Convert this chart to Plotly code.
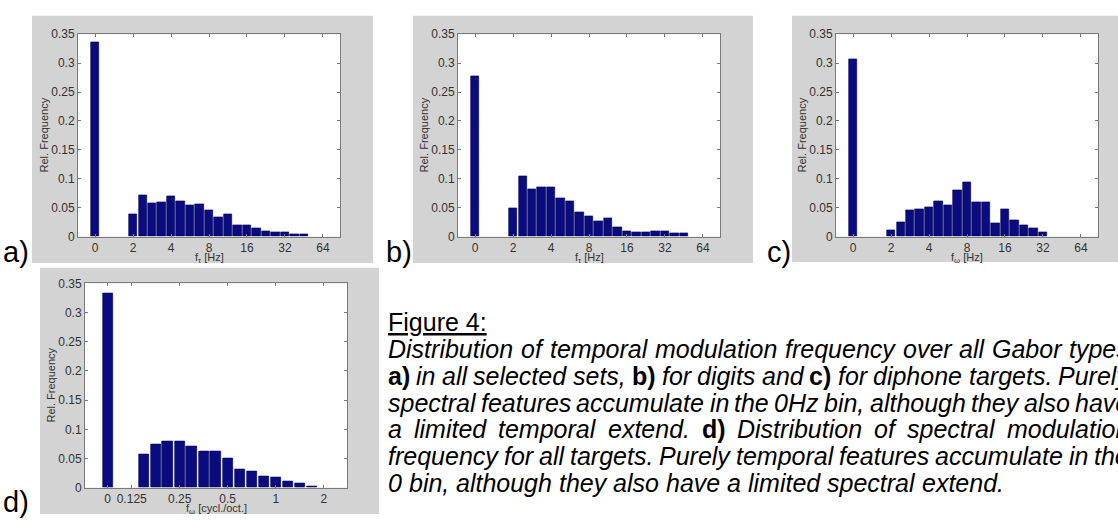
import math
import plotly.graph_objects as go

W, H = 1118, 521

# ---------------- data ----------------
freq_t = [2, 2.38, 2.83, 3.36, 4, 4.76, 5.66, 6.73, 8, 9.51, 11.31, 13.45,
          16, 19.03, 22.63, 26.91, 32, 38.05, 45.25]
zero_a = 0.337
vals_a = [0.038, 0.071, 0.058, 0.060, 0.070, 0.062, 0.054, 0.056, 0.046, 0.034,
          0.038, 0.020, 0.019, 0.015, 0.009, 0.008, 0.008, 0.0045, 0.0035]
zero_b = 0.277
vals_b = [0.049, 0.104, 0.082, 0.085, 0.086, 0.067, 0.061, 0.042, 0.035, 0.027,
          0.031, 0.016, 0.010, 0.008, 0.008, 0.009, 0.009, 0.0056, 0.0056]
zero_c = 0.306
vals_c = [0.011, 0.025, 0.045, 0.047, 0.050, 0.062, 0.054, 0.080, 0.094, 0.060,
          0.060, 0.024, 0.047, 0.029, 0.019, 0.015, 0.008]
freq_s = [0.149, 0.177, 0.210, 0.25, 0.297, 0.354, 0.420, 0.5, 0.595, 0.707,
          0.841, 1.0, 1.189, 1.414, 1.682]
zero_d = 0.333
vals_d = [0.057, 0.075, 0.080, 0.080, 0.071, 0.062, 0.062, 0.051, 0.031, 0.028,
          0.019, 0.017, 0.011, 0.008, 0.003]

xticks_t = [0, 2, 4, 8, 16, 32, 64]
xticks_s = [0, 0.125, 0.25, 0.5, 1, 2]
xticklabels_s = ["0", "0.125", "0.25", "0.5", "1", "2"]
yticks = [0, 0.05, 0.1, 0.15, 0.2, 0.25, 0.3, 0.35]
yticklabels = ["0", "0.05", "0.1", "0.15", "0.2", "0.25", "0.3", "0.35"]

caption_title = "Figure 4:"
# each caption line: list of (word, bold)
caption_lines = [
    [(w, False) for w in "Distribution of temporal modulation frequency over all Gabor types".split()],
    [("a)", True), ("in", False), ("all", False), ("selected", False), ("sets,", False),
     ("b)", True), ("for", False), ("digits", False), ("and", False), ("c)", True),
     ("for", False), ("diphone", False), ("targets.", False), ("Purely", False)],
    [(w, False) for w in "spectral features accumulate in the 0Hz bin, although they also have".split()],
    [("a", False), ("limited", False), ("temporal", False), ("extend.", False), ("d)", True),
     ("Distribution", False), ("of", False), ("spectral", False), ("modulation", False)],
    [(w, False) for w in "frequency for all targets. Purely temporal features accumulate in the".split()],
    [(w, False) for w in "0 bin, although they also have a limited spectral extend.".split()],
]

BAR = "#0b0b80"
GRAY_BG = "#d3d3d3"
AX = "#7a7a7a"
TICKC = "#333333"
FONT = "Liberation Sans, Arial, sans-serif"

# Arial advance widths (1/1000 em) for justification
AW = dict(zip("abcdefghijklmnopqrstuvwxyz",
              [556, 556, 500, 556, 556, 278, 556, 556, 222, 222, 500, 222, 833,
               556, 556, 556, 556, 333, 500, 278, 556, 500, 722, 500, 500, 500]))
AW.update({"A": 667, "B": 667, "C": 722, "D": 722, "E": 667, "F": 611, "G": 778,
           "H": 722, "P": 667, ".": 278, ",": 278, ":": 278, ")": 333, "(": 333,
           " ": 278})
for dgt in "0123456789":
    AW[dgt] = 556
AWB = dict(AW)
AWB.update({"a": 556, "b": 611, "c": 556, "d": 611, ")": 333})


def word_w(word, bold, fs):
    tab = AWB if bold else AW
    return sum(tab.get(ch, 556) for ch in word) * fs / 1000.0


def pos_t(f):
    return 0.0 if f == 0 else math.log2(f)


def pos_s(f):
    return -0.5 if f == 0 else math.log2(f / 0.125)


panels = [
    dict(box=(78, 340, 28, 236), gray=(32, 373, 9, 263), xr=[-0.45, 6.45],
         freqs=freq_t, vals=vals_a, zero=zero_a, pos=pos_t, ticks=xticks_t,
         tlabels=[str(t) for t in xticks_t], xlabel="f<sub>τ</sub> [Hz]",
         tag="a)", tagxy=(16, 252)),
    dict(box=(458, 720, 28, 236), gray=(413, 753, 9, 263), xr=[-0.45, 6.45],
         freqs=freq_t, vals=vals_b, zero=zero_b, pos=pos_t, ticks=xticks_t,
         tlabels=[str(t) for t in xticks_t], xlabel="f<sub>τ</sub> [Hz]",
         tag="b)", tagxy=(399, 252)),
    dict(box=(836, 1098, 28, 236), gray=(792, 1118, 9, 262), xr=[-0.45, 6.45],
         freqs=freq_t[:len(vals_c)], vals=vals_c, zero=zero_c, pos=pos_t,
         ticks=xticks_t, tlabels=[str(t) for t in xticks_t],
         xlabel="f<sub>ω</sub> [Hz]", tag="c)", tagxy=(779, 252)),
    dict(box=(85, 347, 284, 494), gray=(40, 379, 268, 521), xr=[-0.973, 4.485],
         freqs=freq_s, vals=vals_d, zero=zero_d, pos=pos_s, ticks=xticks_s,
         tlabels=xticklabels_s, xlabel="f<sub>ω</sub> [cycl./oct.]",
         tag="d)", tagxy=(16, 509)),
]

fig = go.Figure()
shapes = []
annotations = []
layout_axes = {}

for i, p in enumerate(panels):
    n = "" if i == 0 else str(i + 1)
    x0, x1, yt, yb = p["box"]
    gx0, gx1, gy0, gy1 = p["gray"]
    shapes.append(dict(type="rect", xref="paper", yref="paper",
                       x0=gx0 / W, x1=gx1 / W, y0=1 - gy1 / H, y1=1 - gy0 / H,
                       fillcolor=GRAY_BG, line=dict(width=0), layer="below"))
    shapes.append(dict(type="rect", xref="paper", yref="paper",
                       x0=x0 / W, x1=x1 / W, y0=1 - yb / H, y1=1 - yt / H,
                       fillcolor="white", line=dict(width=0), layer="below"))
    xs = [p["pos"](0)] + [p["pos"](f) for f in p["freqs"]]
    ys = [p["zero"]] + list(p["vals"])
    fig.add_trace(go.Bar(x=xs, y=ys, width=0.215,
                         marker=dict(color=BAR, line=dict(width=0.6, color="#000050")),
                         xaxis="x" + n, yaxis="y" + n, showlegend=False))
    layout_axes["xaxis" + n] = dict(
        domain=[x0 / W, x1 / W], anchor="y" + n, range=p["xr"],
        tickvals=[p["pos"](t) for t in p["ticks"]], ticktext=p["tlabels"],
        ticks="inside", ticklen=3, tickcolor=AX, showline=True, linecolor=AX,
        linewidth=1, mirror="ticks", showgrid=False, zeroline=False,
        tickfont=dict(family=FONT, size=12, color=TICKC), fixedrange=True)
    layout_axes["yaxis" + n] = dict(
        domain=[1 - yb / H, 1 - yt / H], anchor="x" + n, range=[0, 0.35],
        tickvals=yticks, ticktext=yticklabels,
        ticks="inside", ticklen=3, tickcolor=AX, showline=True, linecolor=AX,
        linewidth=1, mirror="ticks", showgrid=False, zeroline=False,
        tickfont=dict(family=FONT, size=12, color=TICKC), fixedrange=True)
    annotations.append(dict(xref="paper", yref="paper", x=(x0 - 34) / W,
                            y=1 - ((yt + yb) / 2) / H, text="Rel. Frequency",
                            textangle=-90, showarrow=False, xanchor="center",
                            yanchor="middle",
                            font=dict(family=FONT, size=11, color=TICKC)))
    annotations.append(dict(xref="paper", yref="paper", x=((x0 + x1) / 2) / W,
                            y=1 - (yb + 22) / H, text=p["xlabel"],
                            showarrow=False, xanchor="center", yanchor="middle",
                            font=dict(family=FONT, size=11, color=TICKC)))
    tx, ty = p["tagxy"]
    annotations.append(dict(xref="paper", yref="paper", x=tx / W, y=1 - ty / H,
                            text=p["tag"], showarrow=False, xanchor="center",
                            yanchor="middle",
                            font=dict(family=FONT, size=29, color="black")))

# ---------------- caption (justified) ----------------
FS = 25
CAP_X0, CAP_X1 = 387, 1128
first_baseline, line_step = 354.5, 27.5
CENTER_OFF = 3  # baseline -> middle of annotation box

annotations.append(dict(xref="paper", yref="paper", x=CAP_X0 / W,
                        y=1 - (first_baseline - 28 - CENTER_OFF) / H,
                        text="<u>" + caption_title + "</u>", showarrow=False,
                        xanchor="left", yanchor="middle", borderpad=0,
                        font=dict(family=FONT, size=FS, color="black")))

for li, words in enumerate(caption_lines):
    baseline = first_baseline + li * line_step
    widths = [word_w(w, b, FS) for w, b in words]
    space = AW[" "] * FS / 1000.0
    last = li == len(caption_lines) - 1
    if last:
        gap = space
    else:
        gap = (CAP_X1 - CAP_X0 - sum(widths)) / (len(words) - 1)
    x = CAP_X0
    for (w, b), ww in zip(words, widths):
        txt = "<b>" + w + "</b>" if b else "<i>" + w + "</i>"
        annotations.append(dict(xref="paper", yref="paper", x=x / W,
                                y=1 - (baseline - CENTER_OFF) / H, text=txt,
                                showarrow=False, xanchor="left", yanchor="middle",
                                borderpad=0,
                                font=dict(family=FONT, size=FS, color="black")))
        x += ww + gap

fig.update_layout(width=W, height=H, margin=dict(l=0, r=0, t=0, b=0),
                  paper_bgcolor="white", plot_bgcolor="white",
                  shapes=shapes, annotations=annotations, bargap=0,
                  **layout_axes)
fig.write_html("out.html")
